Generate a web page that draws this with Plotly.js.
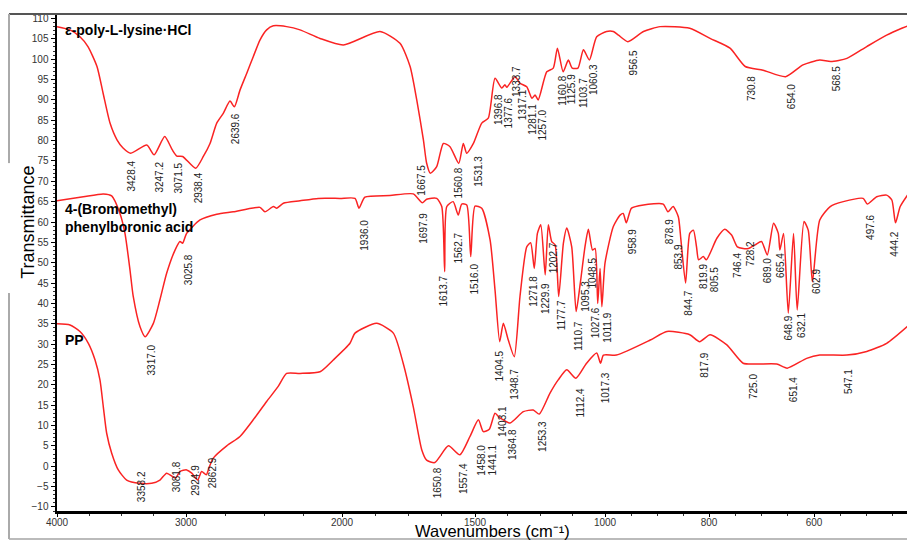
<!DOCTYPE html>
<html>
<head>
<meta charset="utf-8">
<script src="https://cdn.plot.ly/plotly-3.0.1.min.js"></script>
<style>html,body{margin:0;padding:0;background:#fff;}#chart{width:907px;height:540px;}</style>
</head>
<body>
<div id="chart"></div>
<script>
// ---------- data: [wavenumber (cm-1), transmittance] ----------
const epsPolyLysine = [
[4000,108.0],[3899,107.2],[3822,105.5],[3760,103.1],[3690,98.2],[3643,91.7],[3589,84.3],[3535,80.2],[3488,78.2],[3428,76.9],
[3304,78.9],[3247,76.5],[3165,81.0],[3106,77.7],[3071,76.2],[3026,76.1],[2938,73.2],[2889,76.1],[2846,79.3],[2803,84.3],
[2761,86.7],[2718,89.7],[2690,88.3],[2654,92.4],[2611,96.5],[2569,100.6],[2526,104.7],[2483,107.2],[2440,108.2],[2355,108.0],
[2269,107.2],[2141,105.1],[1995,103.5],[1857,106.8],[1782,103.9],[1744,98.2],[1719,90.0],[1694,80.2],[1682,74.5],[1668,72.0],
[1644,73.6],[1619,79.3],[1594,78.5],[1561,74.4],[1544,79.3],[1531,76.9],[1506,79.3],[1474,84.3],[1449,85.5],[1423,95.3],
[1397,92.9],[1385,93.7],[1378,93.1],[1346,95.7],[1327,94.1],[1301,93.2],[1281,90.4],[1269,91.2],[1257,90.0],[1224,96.9],
[1199,97.8],[1183,102.7],[1161,96.9],[1141,99.8],[1126,97.8],[1104,97.8],[1083,102.3],[1060,99.8],[1032,105.5],[997,106.8],
[984,106.8],[974,105.9],[956,104.3],[926,106.8],[894,108.0],[837,107.6],[798,105.1],[760,102.7],[731,98.2],[697,97.3],
[654,95.7],[621,98.6],[589,99.8],[568,99.4],[537,100.2],[499,103.1],[461,105.9],[432,107.6],[420,108.2]
];
const bromomethylPBA = [
[4000,65.2],[3796,66.2],[3641,66.9],[3576,66.4],[3512,62.1],[3473,57.2],[3434,48.2],[3409,41.7],[3357,34.3],[3317,31.8],
[3253,35.1],[3202,40.9],[3150,47.4],[3085,53.1],[3047,55.2],[3026,54.8],[2996,57.2],[2910,60.5],[2803,61.9],[2697,62.5],
[2526,63.6],[2494,62.5],[2440,63.8],[2418,63.4],[2376,64.6],[2269,65.2],[2152,65.8],[2013,65.8],[1951,65.8],[1936,63.4],
[1914,66.1],[1820,66.5],[1732,66.9],[1698,64.7],[1682,65.6],[1644,65.8],[1625,63.8],[1614,47.8],[1606,63.8],[1582,65.0],
[1563,61.7],[1550,64.4],[1531,64.2],[1516,51.5],[1500,63.9],[1474,63.4],[1442,55.6],[1423,43.3],[1405,30.6],[1391,35.1],
[1372,31.0],[1349,26.9],[1327,41.7],[1301,53.9],[1286,54.9],[1272,48.6],[1260,57.2],[1247,59.3],[1230,47.0],[1218,59.3],
[1205,55.2],[1192,54.4],[1178,41.7],[1160,54.8],[1147,58.5],[1128,53.9],[1111,38.0],[1095,45.0],[1077,53.9],[1064,58.2],
[1048,53.1],[1038,53.5],[1028,40.0],[1019,48.6],[1012,39.2],[1000,49.9],[984,58.9],[971,61.7],[965,62.1],[959,59.8],
[949,63.4],[926,64.2],[888,64.4],[879,62.5],[869,63.8],[859,61.3],[854,55.6],[845,45.0],[837,57.2],[830,58.0],
[824,53.9],[820,50.7],[811,51.5],[805,50.7],[785,56.0],[770,58.2],[757,56.8],[746,53.9],[735,53.5],[725,53.5],
[712,54.4],[700,55.2],[689,51.9],[677,59.7],[668,57.2],[665,53.1],[658,57.2],[649,37.6],[639,57.2],[632,38.4],
[619,60.1],[611,58.0],[603,45.3],[589,60.5],[569,63.8],[544,65.0],[506,65.8],[498,64.4],[480,66.2],[461,66.6],
[451,65.4],[444,59.8],[435,63.8],[420,66.8]
];
const ppSpectrum = [
[4000,35.0],[3899,34.7],[3822,33.1],[3757,30.2],[3705,26.1],[3667,21.2],[3641,14.6],[3615,8.1],[3576,3.2],[3525,-0.9],
[3460,-3.4],[3358,-4.2],[3266,-4.2],[3202,-3.4],[3150,-1.7],[3082,-2.9],[3047,-1.3],[2996,-0.9],[2963,-1.7],[2925,-3.4],
[2900,-1.3],[2870,-2.1],[2850,-0.1],[2825,2.0],[2739,5.0],[2654,7.3],[2569,11.4],[2483,15.9],[2409,19.6],[2355,22.8],
[2269,22.8],[2141,23.2],[2056,26.1],[1970,30.2],[1951,32.7],[1870,35.1],[1807,32.7],[1770,25.3],[1732,14.6],[1700,4.0],
[1682,1.5],[1651,0.9],[1600,5.0],[1557,2.8],[1519,7.3],[1487,11.4],[1468,8.5],[1445,9.1],[1423,13.0],[1407,12.0],
[1391,11.4],[1365,10.6],[1314,13.4],[1276,13.8],[1253,12.8],[1212,17.9],[1180,21.2],[1147,23.7],[1112,21.6],[1071,25.3],
[1032,27.8],[1017,25.3],[1006,27.3],[978,27.3],[913,31.0],[881,33.1],[837,32.3],[818,30.6],[798,32.3],[766,29.8],
[735,25.3],[709,25.1],[671,25.1],[651,24.1],[614,26.5],[589,27.3],[537,27.3],[499,28.2],[461,30.2],[420,34.5]
];

// peak labels: [text, label centre wavenumber, label top transmittance]
const epsLabels = [
['3428.4',3421,75.4],['3247.2',3202,75.2],['3071.5',3060,74.8],['2938.4',2921,72.4],['2639.6',2686,87.1],
['1667.5',1700,74.4],['1560.8',1563,73.6],['1531.3',1487,76.5],['1396.8',1407,91.6],['1377.6',1372,90.8],
['1333.7',1340,98.6],['1317.1',1317,92.9],['1281.1',1280,89.2],['1257.0',1240,87.9],['1160.8',1167,96.1],
['1125.9',1128,96.5],['1103.7',1083,95.7],['1060.3',1045,99.0],['956.5',946,102.3],['730.8',719,96.1],
['654.0',643,94.1],['568.5',558,98.6]
];
const pbaLabels = [
['3317.0',3266,30.2],['3025.8',2985,52.3],['1936.0',1914,60.9],['1697.9',1694,62.5],['1613.7',1620,47.0],
['1562.7',1563,57.6],['1516.0',1500,49.9],['1404.5',1407,28.6],['1348.7',1346,24.1],['1271.8',1276,47.0],
['1229.9',1228,45.3],['1202.7',1199,55.2],['1177.7',1167,40.9],['1110.7',1105,35.9],['1095.3',1075,45.8],
['1048.5',1048,51.5],['1027.6',1038,39.2],['1011.9',996,38.0],['958.9',947,58.5],['878.9',876,60.9],
['853.9',858,54.8],['844.7',840,43.3],['819.9',811,49.9],['805.5',789,49.2],['746.4',747,52.7],
['728.2',722,55.6],['689.0',687,51.3],['665.4',665,52.7],['648.9',649,37.2],['632.1',625,38.0],
['602.9',594,48.6],['497.6',491,62.1],['444.2',445,58.0]
];
const ppLabels = [
['3358.2',3343,-0.9],['3081.8',3072,1.5],['2924.9',2936,0.7],['2862.9',2825,2.4],['1650.8',1642,-0.1],
['1557.4',1546,1.1],['1458.0',1474,5.6],['1441.1',1432,5.6],['1403.1',1397,15.1],['1364.8',1353,9.3],
['1253.3',1240,11.4],['1112.4',1096,19.6],['1017.3',1000,23.2],['817.9',808,28.2],['725.0',714,22.8],
['651.4',640,22.0],['547.1',534,24.1]
];

const seriesNames = ['ε-poly-L-lysine·HCl', '4-(Bromomethyl)<br>phenylboronic acid', 'PP'];
const xTickValues = [4000, 3000, 2000, 1500, 1000, 800, 600];
const xMinorValues = [3750,3500,3250,2750,2500,2250,1875,1750,1625,1375,1250,1125,950,900,850,750,700,650,550,500,450];

// ---------- piecewise (broken) wavenumber scale ----------
const scaleBreaks = [4000, 3000, 2000, 1500, 1000, 800, 600, 400];
const scaleWidths = [129, 156, 133, 130, 104, 105, 104.5];
function xs(w) {
  let acc = 0;
  for (let i = 0; i < scaleWidths.length; i++) {
    const a = scaleBreaks[i], b = scaleBreaks[i + 1];
    if (w >= b || i === scaleWidths.length - 1) {
      return acc + (a - w) / (a - b) * scaleWidths[i];
    }
    acc += scaleWidths[i];
  }
}

const FONT = 'Arial, "Liberation Sans", sans-serif';
const RED = 'rgb(250,35,35)';

function trace(arr) {
  return {
    x: arr.map(p => xs(p[0])), y: arr.map(p => p[1]),
    type: 'scatter', mode: 'lines',
    line: {color: RED, width: 1.5, shape: 'spline', smoothing: 0.6},
    hoverinfo: 'skip'
  };
}
const data = [trace(epsPolyLysine), trace(bromomethylPBA), trace(ppSpectrum)];

const annotations = [];
[epsLabels, pbaLabels, ppLabels].forEach(list => list.forEach(l => {
  annotations.push({
    x: xs(l[1]), y: l[2], xref: 'x', yref: 'y', text: l[0], textangle: -90,
    showarrow: false, xanchor: 'center', yanchor: 'top', borderpad: 0,
    font: {family: FONT, size: 10, color: '#222'}
  });
}));
// series names
const nameY = [107.2, 60.9, 31.1];
seriesNames.forEach((n, i) => annotations.push({
  x: 0.007, y: nameY[i], xref: 'paper', yref: 'y', text: '<b>' + n + '</b>',
  showarrow: false, xanchor: 'left', yanchor: 'middle', align: 'left',
  font: {family: FONT, size: 14, color: '#000'}
}));
// axis titles
annotations.push({
  x: 0.512, y: -0.0405, xref: 'paper', yref: 'paper', text: 'Wavenumbers (cm\u207B\u00B9)',
  showarrow: false, xanchor: 'center', yanchor: 'middle', borderpad: 0,
  font: {family: FONT, size: 16.5, color: '#000'}
});
annotations.push({
  x: -0.034, y: 0.58, xref: 'paper', yref: 'paper', text: 'Transmittance', textangle: -90,
  showarrow: false, xanchor: 'center', yanchor: 'middle',
  font: {family: FONT, size: 18, color: '#000'}
});

const shapes = [
  {type: 'line', xref: 'paper', yref: 'paper', x0: -0.0565, x1: 1.01, y0: 1.0, y1: 1.0, line: {color: '#555', width: 2}},
  {type: 'line', xref: 'paper', yref: 'paper', x0: -0.0565, x1: 1.01, y0: -0.0563, y1: -0.0563, line: {color: '#bbb', width: 2}},
  {type: 'line', xref: 'paper', yref: 'paper', x0: -0.0565, x1: -0.0565, y0: 1.0, y1: 0.70, line: {color: '#aaa', width: 2}},
  {type: 'line', xref: 'paper', yref: 'paper', x0: -0.0565, x1: -0.0565, y0: 0.4386, y1: -0.0563, line: {color: '#aaa', width: 2}}
];

const layout = {
  width: 907, height: 540,
  margin: {l: 57, r: 0, t: 14, b: 29, pad: 0},
  paper_bgcolor: '#fff', plot_bgcolor: '#fff',
  showlegend: false,
  font: {family: FONT},
  xaxis: {
    range: [0, 850], tickmode: 'array',
    tickvals: xTickValues.map(xs), ticktext: xTickValues.map(String),
    showline: true, linecolor: '#000', linewidth: 2.5, mirror: false,
    ticks: 'outside', ticklen: 3, tickwidth: 1, tickcolor: '#000', ticklabelstandoff: -3,
    tickfont: {family: FONT, size: 10, color: '#333'},
    showgrid: false, zeroline: false, fixedrange: true,
    minor: {tickmode: 'array', tickvals: xMinorValues.map(xs), ticks: 'outside', ticklen: 2, tickcolor: '#333', showgrid: false}
  },
  yaxis: {
    range: [-11, 111.1], tick0: 0, dtick: 5,
    showline: true, linecolor: '#000', linewidth: 2.5,
    ticks: 'outside', ticklen: 4, tickwidth: 1, tickcolor: '#000',
    tickfont: {family: FONT, size: 10, color: '#333'},
    showgrid: false, zeroline: false, fixedrange: true,
    minor: {dtick: 1, ticks: 'outside', ticklen: 2, tickcolor: '#333', showgrid: false}
  },
  annotations: annotations,
  shapes: shapes
};

Plotly.newPlot('chart', data, layout, {staticPlot: true, displayModeBar: false});
</script>
</body>
</html>
